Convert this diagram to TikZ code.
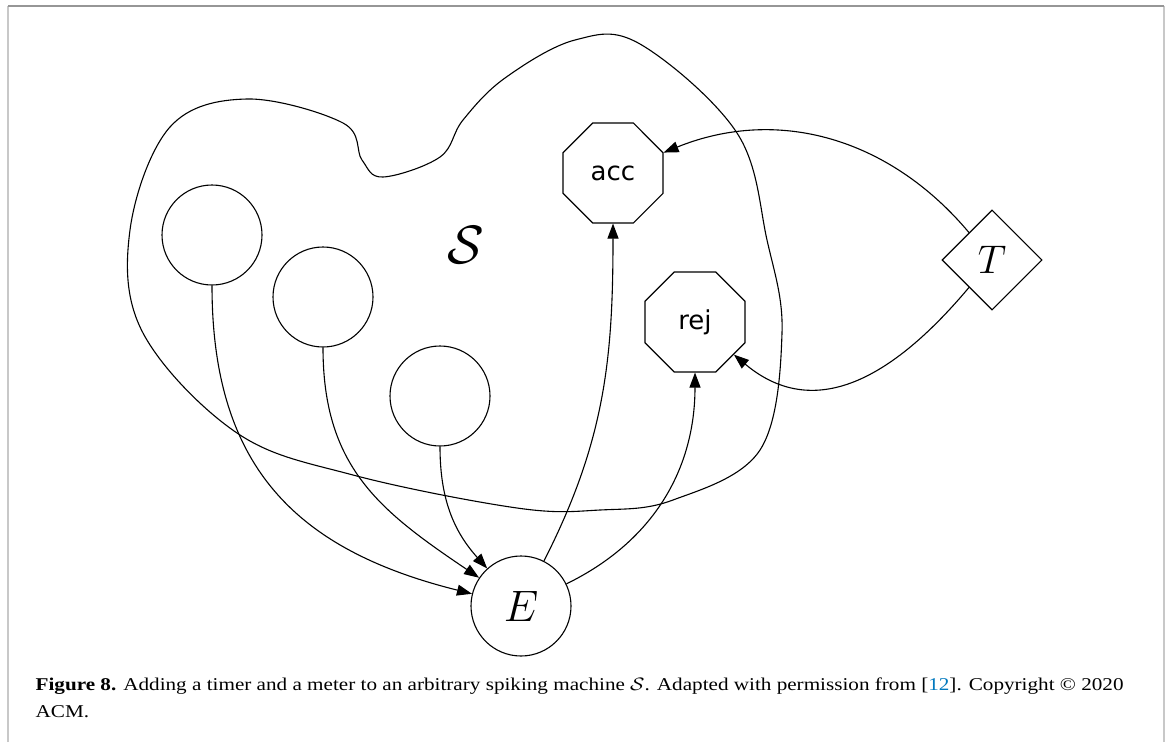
\RequirePackage{fix-cm}
\documentclass[tikz,border=0pt]{standalone}
\usepackage{fontspec}
\setmainfont{Liberation Serif}
\newfontfamily\nodefont{DejaVu Sans}
\usetikzlibrary{arrows.meta,shapes.geometric,shapes.misc}
\definecolor{refblue}{RGB}{0,120,190}
\definecolor{frametop}{RGB}{150,150,150}
\definecolor{frameside}{RGB}{200,200,200}
\begin{document}
\begin{tikzpicture}[x=1pt,y=1pt,
  line width=1.1pt,
  neuron/.style={circle, draw, minimum size=100pt, inner sep=0pt},
  haltbox/.style={chamfered rectangle, draw, chamfered rectangle xsep=25pt,
    chamfered rectangle ysep=25pt, minimum width=100pt, minimum height=100pt,
    inner sep=0pt, font=\nodefont\fontsize{26}{30}\selectfont},
  timerbox/.style={diamond, draw, aspect=1, minimum width=100pt,
    minimum height=100pt, inner sep=0pt},
  edge/.style={-{Triangle[length=15pt,width=11pt]}},
  caption/.style={anchor=base west, inner sep=0pt, xscale=1.175,
    font=\fontsize{18}{21}\selectfont}]
\useasboundingbox (0,-742) rectangle (1167,0);

% frame around the figure
\draw[frameside, line width=1.5pt] (8,-742) -- (8,-6);
\draw[frameside, line width=1.5pt] (1164,-742) -- (1164,-6);
\draw[frametop, line width=1.5pt] (8,-6) -- (1164,-6);

% outline of the arbitrary machine
\draw[line width=1.1pt] plot[smooth cycle, tension=0.6] coordinates {
  (247,-99) (343,-123) (362,-160) (383,-177) (440,-157) (463,-120)
  (505,-78) (575,-40) (640,-44) (737,-133) (767,-240) (782,-333)
  (760,-450) (673,-500) (600,-510) (517,-508) (353,-475) (237,-433)
  (143,-333) (130,-230) (170,-127)};
\node (S) at (466,-245) {\fontsize{54}{60}\selectfont$\mathcal{S}$};

% neurons
\node[neuron] (A) at (212,-235) {};
\node[neuron] (B) at (323,-297) {};
\node[neuron] (C) at (440,-396) {};
\node[neuron] (E) at (521,-606) {\fontsize{44}{50}\selectfont$E$};
\node[haltbox] (acc) at (613,-173) {acc};
\node[haltbox] (rej) at (695,-322) {rej};
\node[timerbox] (T) at (992,-260) {\fontsize{40}{48}\selectfont$T$};

% synapses
\draw[edge] (A) to[out=-90, in=166, looseness=1.15] (E);
\draw[edge] (B) to[out=-90, in=146, looseness=1.1] (E);
\draw[edge] (C) to[out=-90, in=132] (E);
\draw[edge] (E) to[out=63, in=-90] (acc);
\draw[edge] (E) to[out=26, in=-90] (rej);
\draw[edge] (T) to[out=130, in=22] (acc);
\draw[edge] (T) to[out=-130, in=-40, looseness=1.15] (rej);

% caption
\node[caption] (cap1) at (35,-690) {\textbf{Figure 8.} Adding a timer and a meter to an arbitrary spiking machine $\mathcal{S}$. Adapted with permission from [\textcolor{refblue}{12}]. Copyright \textcopyright{} 2020};
\node[caption] (cap2) at (35,-717) {ACM.};
\end{tikzpicture}
\end{document}
